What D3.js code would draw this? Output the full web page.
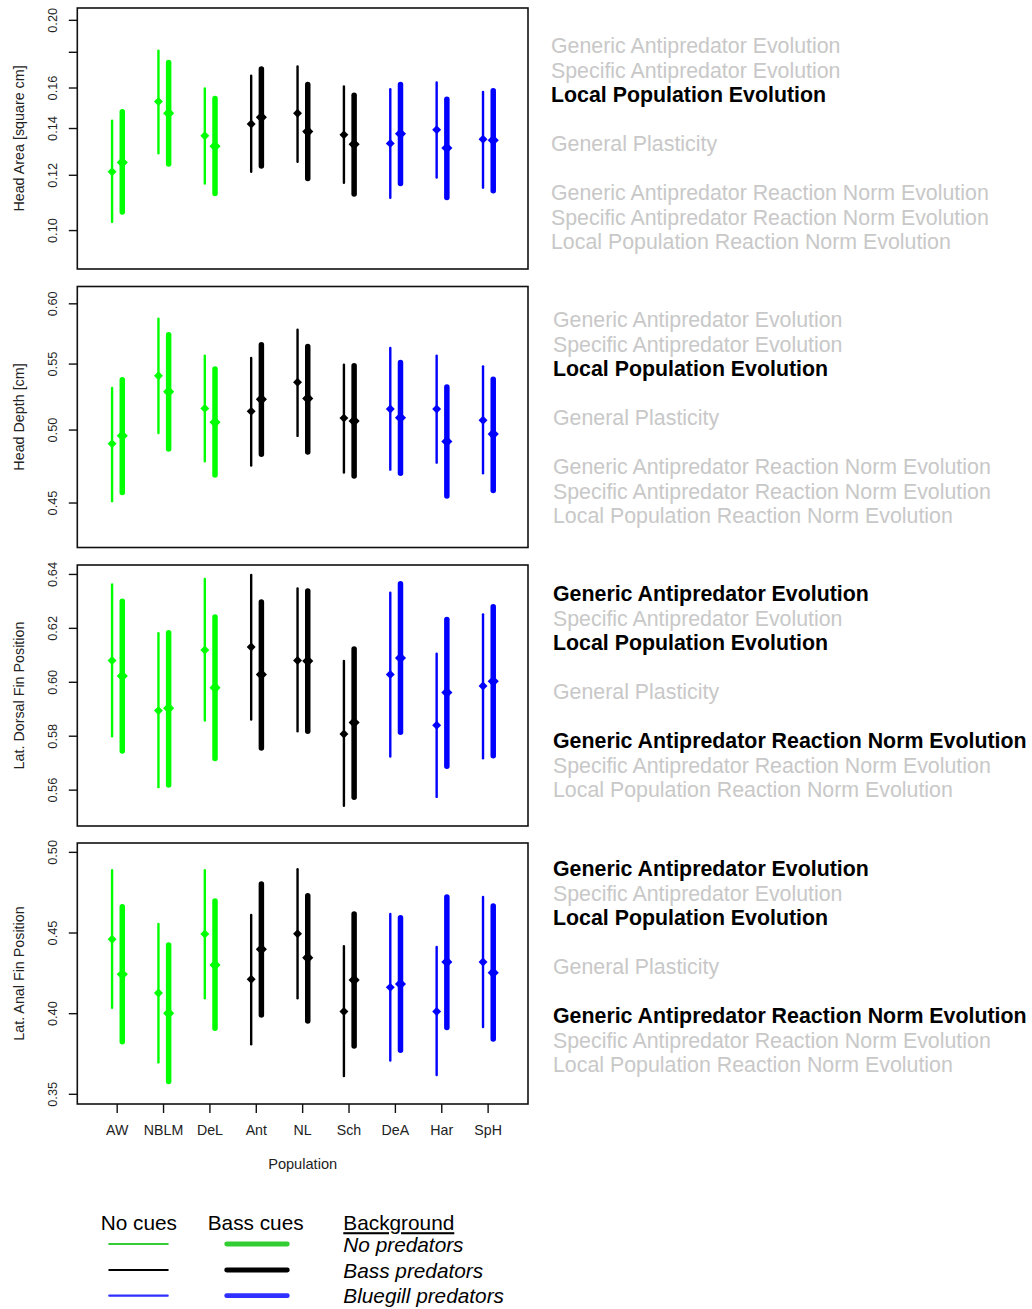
<!DOCTYPE html>
<html>
<head>
<meta charset="utf-8">
<script src="https://cdn.jsdelivr.net/npm/d3@7"></script>
<style>
  html, body { margin: 0; padding: 0; background: #ffffff; }
  svg { display: block; font-family: "Liberation Sans", Arial, Helvetica, sans-serif; }
</style>
</head>
<body>
<svg id="chart" width="1032" height="1309"></svg>
<script>
// ---------------- DATA ----------------
const populations = ["AW", "NBLM", "DeL", "Ant", "NL", "Sch", "DeA", "Har", "SpH"];
const background = ["none", "none", "none", "bass", "bass", "bass", "bluegill", "bluegill", "bluegill"];

const yLabels = ["Head Area [square cm]", "Head Depth [cm]", "Lat. Dorsal Fin Position", "Lat. Anal Fin Position"];
const yScaleTypes = ["log", "log", "linear", "linear"];
const yDomains = [[0.0881, 0.2083], [0.422, 0.6152], [0.5467, 0.6435], [0.344, 0.5058]];
const yTicks = [[0.10, 0.12, 0.14, 0.16, 0.18, 0.20], [0.45, 0.50, 0.55, 0.60], [0.56, 0.58, 0.60, 0.62, 0.64], [0.35, 0.40, 0.45, 0.50]];
const yTickLabels = [["0.10", "0.12", "0.14", "0.16", "", "0.20"], ["0.45", "0.50", "0.55", "0.60"], ["0.56", "0.58", "0.60", "0.62", "0.64"], ["0.35", "0.40", "0.45", "0.50"]];

// Head area
const areaNoMean = [0.1214, 0.1530, 0.1367, 0.1421, 0.1472, 0.1371, 0.1333, 0.1394, 0.1351];
const areaNoLo   = [0.1029, 0.1290, 0.1168, 0.1214, 0.1255, 0.1171, 0.1114, 0.1191, 0.1152];
const areaNoHi   = [0.1437, 0.1809, 0.1598, 0.1666, 0.1718, 0.1608, 0.1594, 0.1629, 0.1580];
const areaBassMean = [0.1252, 0.1472, 0.1321, 0.1453, 0.1386, 0.1329, 0.1376, 0.1313, 0.1347];
const areaBassLo   = [0.1063, 0.1245, 0.1130, 0.1237, 0.1187, 0.1128, 0.1168, 0.1115, 0.1140];
const areaBassHi   = [0.1479, 0.1741, 0.1545, 0.1703, 0.1619, 0.1562, 0.1619, 0.1542, 0.1586];

// Head depth
const depthNoMean = [0.4903, 0.5408, 0.5159, 0.5137, 0.5357, 0.5087, 0.5155, 0.5155, 0.5072];
const depthNoLo   = [0.4512, 0.4979, 0.4779, 0.4751, 0.4958, 0.4703, 0.4722, 0.4770, 0.4698];
const depthNoHi   = [0.5314, 0.5872, 0.5566, 0.5548, 0.5779, 0.5495, 0.5629, 0.5566, 0.5482];
const depthBassMean = [0.4959, 0.5285, 0.5057, 0.5227, 0.5234, 0.5065, 0.5090, 0.4918, 0.4971];
const depthBassLo   = [0.4569, 0.4865, 0.4685, 0.4828, 0.4844, 0.4679, 0.4698, 0.4546, 0.4582];
const depthBassHi   = [0.5376, 0.5738, 0.5461, 0.5655, 0.5642, 0.5487, 0.5513, 0.5320, 0.5381];

// Lateral dorsal fin position
const dorsalNoMean = [0.6081, 0.5895, 0.6120, 0.6131, 0.6081, 0.5808, 0.6029, 0.5841, 0.5986];
const dorsalNoLo   = [0.5800, 0.5611, 0.5858, 0.5862, 0.5818, 0.5542, 0.5725, 0.5575, 0.5718];
const dorsalNoHi   = [0.6363, 0.6182, 0.6383, 0.6398, 0.6348, 0.6079, 0.6332, 0.6106, 0.6252];
const dorsalBassMean = [0.6023, 0.5904, 0.5980, 0.6029, 0.6079, 0.5851, 0.6090, 0.5962, 0.6004];
const dorsalBassLo   = [0.5745, 0.5619, 0.5717, 0.5756, 0.5818, 0.5574, 0.5815, 0.5689, 0.5728];
const dorsalBassHi   = [0.6301, 0.6184, 0.6242, 0.6298, 0.6339, 0.6123, 0.6365, 0.6233, 0.6280];

// Lateral anal fin position
const analNoMean = [0.4461, 0.4128, 0.4494, 0.4213, 0.4496, 0.4014, 0.4163, 0.4014, 0.4320];
const analNoLo   = [0.4037, 0.3698, 0.4095, 0.3810, 0.4095, 0.3614, 0.3709, 0.3620, 0.3917];
const analNoHi   = [0.4890, 0.4556, 0.4890, 0.4612, 0.4895, 0.4419, 0.4618, 0.4413, 0.4723];
const analBassMean = [0.4244, 0.4002, 0.4302, 0.4399, 0.4347, 0.4209, 0.4184, 0.4320, 0.4254];
const analBassLo   = [0.3826, 0.3579, 0.3909, 0.3992, 0.3955, 0.3800, 0.3773, 0.3915, 0.3843];
const analBassHi   = [0.4663, 0.4426, 0.4698, 0.4804, 0.4731, 0.4618, 0.4595, 0.4723, 0.4667];

const hypotheses = [
  "Generic Antipredator Evolution",
  "Specific Antipredator Evolution",
  "Local Population Evolution",
  "General Plasticity",
  "Generic Antipredator Reaction Norm Evolution",
  "Specific Antipredator Reaction Norm Evolution",
  "Local Population Reaction Norm Evolution"
];
const hypothesisSlots = [0, 1, 2, 4, 6, 7, 8];
const supported = [[2], [2], [0, 2, 4], [0, 2, 4]];

const legendCues = ["No cues", "Bass cues"];
const legendTitle = "Background";
const legendBackgrounds = ["No predators", "Bass predators", "Bluegill predators"];

// ---------------- LAYOUT / STYLE ----------------
const plotColors = { none: "#00ff00", bass: "#000000", bluegill: "#0000ff" };
const legendColors = ["#32cd32", "#000000", "#2f2fff"];
const frameLeft = 77.3, frameRight = 528, panelH = 261;
const panelTops = [8, 286.5, 565, 843];
const textTops = [53.3, 327.3, 601.3, 876.3];
const textX = [551, 553, 553, 553];

const panelSeries = [
  [areaNoMean, areaNoLo, areaNoHi, areaBassMean, areaBassLo, areaBassHi],
  [depthNoMean, depthNoLo, depthNoHi, depthBassMean, depthBassLo, depthBassHi],
  [dorsalNoMean, dorsalNoLo, dorsalNoHi, dorsalBassMean, dorsalBassLo, dorsalBassHi],
  [analNoMean, analNoLo, analNoHi, analBassMean, analBassLo, analBassHi]
];

const svg = d3.select("#chart");
svg.append("rect").attr("width", 1032).attr("height", 1309).attr("fill", "#fff");

const x = d3.scaleLinear().domain([0.14, 9.86]).range([frameLeft, frameRight]);
const offset = 0.11;
const diamond = d3.symbol().type(d3.symbolSquare);

panelSeries.forEach((series, p) => {
  const top = panelTops[p];
  const y = (yScaleTypes[p] === "log" ? d3.scaleLog() : d3.scaleLinear())
    .domain(yDomains[p]).range([top + panelH, top]);
  const g = svg.append("g");

  // frame
  g.append("rect")
    .attr("x", frameLeft).attr("y", top)
    .attr("width", frameRight - frameLeft).attr("height", panelH)
    .attr("fill", "none").attr("stroke", "#111").attr("stroke-width", 1.6);

  // y axis ticks and labels
  const yt = g.append("g");
  yTicks[p].forEach((t, i) => {
    yt.append("line")
      .attr("x1", frameLeft - 8.5).attr("x2", frameLeft)
      .attr("y1", y(t)).attr("y2", y(t))
      .attr("stroke", "#111").attr("stroke-width", 1.4);
    if (yTickLabels[p][i]) {
      yt.append("text")
        .attr("transform", `translate(52.6,${y(t)}) rotate(-90)`)
        .attr("text-anchor", "middle")
        .attr("dominant-baseline", "central")
        .attr("font-size", 12.8).attr("fill", "#222")
        .text(yTickLabels[p][i]);
    }
  });

  // y label
  g.append("text")
    .attr("transform", `translate(18.5,${top + panelH / 2}) rotate(-90)`)
    .attr("text-anchor", "middle")
    .attr("dominant-baseline", "central")
    .attr("font-size", 14.3).attr("fill", "#222")
    .text(yLabels[p]);

  const [noMean, noLo, noHi, bMean, bLo, bHi] = series;
  populations.forEach((pop, i) => {
    const col = plotColors[background[i]];
    const x0 = x(i + 1 - offset), x1 = x(i + 1 + offset);
    g.append("line")
      .attr("x1", x0).attr("x2", x0).attr("y1", y(noLo[i])).attr("y2", y(noHi[i]))
      .attr("stroke", col).attr("stroke-width", 2.4).attr("stroke-linecap", "round");
    g.append("path")
      .attr("d", diamond.size(40)())
      .attr("transform", `translate(${x0},${y(noMean[i])}) rotate(45)`)
      .attr("fill", col);
    g.append("line")
      .attr("x1", x1).attr("x2", x1).attr("y1", y(bLo[i])).attr("y2", y(bHi[i]))
      .attr("stroke", col).attr("stroke-width", 5.5).attr("stroke-linecap", "round");
    g.append("path")
      .attr("d", diamond.size(62)())
      .attr("transform", `translate(${x1},${y(bMean[i])}) rotate(45)`)
      .attr("fill", col);
  });

  // hypotheses text
  hypotheses.forEach((h, k) => {
    const on = supported[p].includes(k);
    svg.append("text")
      .attr("x", textX[p]).attr("y", textTops[p] + hypothesisSlots[k] * 24.5)
      .attr("font-size", 21.35)
      .attr("font-weight", on ? "bold" : "normal")
      .attr("fill", on ? "#000" : "#c8c8c8")
      .text(h);
  });

  // x axis on last panel
  if (p === panelSeries.length - 1) {
    const bottom = top + panelH;
    populations.forEach((pop, i) => {
      g.append("line")
        .attr("x1", x(i + 1)).attr("x2", x(i + 1))
        .attr("y1", bottom).attr("y2", bottom + 9)
        .attr("stroke", "#111").attr("stroke-width", 1.4);
      g.append("text")
        .attr("x", x(i + 1)).attr("y", bottom + 31)
        .attr("text-anchor", "middle")
        .attr("font-size", 14.2).attr("fill", "#222")
        .text(pop);
    });
    g.append("text")
      .attr("x", (frameLeft + frameRight) / 2).attr("y", bottom + 64.5)
      .attr("text-anchor", "middle")
      .attr("font-size", 14.6).attr("fill", "#222")
      .text("Population");
  }
});

// ---------------- LEGEND ----------------
const lg = svg.append("g");
const cueX = [100.7, 207.7];
const lineX = [[109.3, 167.7], [226.7, 287.3]];
const lineW = [2.2, 4.8];
const rowY = [1244, 1270, 1295.7];
legendCues.forEach((c, j) => {
  lg.append("text").attr("x", cueX[j]).attr("y", 1230.2)
    .attr("font-size", 20.8).attr("fill", "#000").text(c);
  legendBackgrounds.forEach((b, r) => {
    lg.append("line")
      .attr("x1", lineX[j][0]).attr("x2", lineX[j][1])
      .attr("y1", rowY[r]).attr("y2", rowY[r])
      .attr("stroke", legendColors[r]).attr("stroke-width", lineW[j])
      .attr("stroke-linecap", "round");
  });
});
lg.append("text").attr("x", 343.3).attr("y", 1230.2)
  .attr("font-size", 20.8).attr("fill", "#000")
  .attr("text-decoration", "underline").text(legendTitle);
legendBackgrounds.forEach((b, r) => {
  lg.append("text").attr("x", 343.3).attr("y", rowY[r] + 7.5)
    .attr("font-size", 20.8).attr("font-style", "italic").attr("fill", "#000").text(b);
});
</script>
</body>
</html>
